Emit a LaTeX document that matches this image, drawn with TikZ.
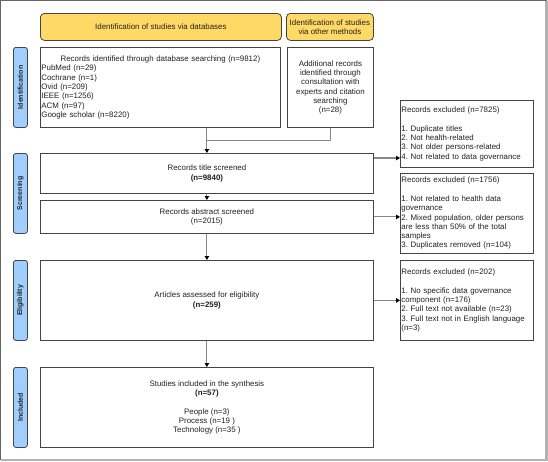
\documentclass[tikz,border=0pt]{standalone}
\usepackage{fontspec}
\setmainfont{Liberation Sans}
\usetikzlibrary{arrows.meta,calc}
\definecolor{hdryellow}{HTML}{FFD966}
\definecolor{sideblue}{HTML}{A0CFFF}
\definecolor{boxline}{HTML}{444444}
\definecolor{conline}{HTML}{888888}
\definecolor{txt}{HTML}{222222}
\frenchspacing
\tikzset{
  every node/.style={font=\fontsize{7.9}{9.3}\selectfont\frenchspacing, text=txt, inner sep=1.5pt},
  box/.style={draw=boxline, line width=0.8pt, fill=white, anchor=north west, align=center},
  hdr/.style={draw=boxline, line width=0.8pt, fill=hdryellow, rounded corners=4pt, anchor=north west, align=center},
  side/.style={draw=boxline, line width=0.8pt, fill=sideblue, rounded corners=2.5pt, anchor=north west,
    minimum width=14pt},
  sidetext/.style={rotate=90, font=\fontsize{7}{8}\selectfont\bfseries},
  excl/.style={draw=boxline, line width=0.8pt, fill=white, anchor=north west, align=left,
    inner xsep=0.8pt, text width=131pt, minimum width=133pt},
  conn/.style={draw=conline, line width=1.1pt},
  arr/.style={conn, -{Triangle[width=4.5pt,length=4pt,color=black]}},
}
\begin{document}
\begin{tikzpicture}[x=1pt,y=-1pt]
\useasboundingbox (0,0) rectangle (548,461);
% frame
\draw[draw=gray!80!black, line width=0.8pt] (0.6,0.6) rectangle (546,459);
\draw[draw=gray!60, line width=2.4pt] (546.6,0.6) -- (546.6,459.8) -- (0.6,459.8);

% headers
\node[hdr, minimum width=241pt, minimum height=27pt] (h1) at (40,13) {Identification of studies via databases};
\node[hdr, minimum width=87pt, minimum height=27pt] (h2) at (286,13) {Identification of studies\\via other methods};

% side labels
\node[side, minimum height=80pt] (s1) at (13,47) {};
\node[sidetext] at (s1.center) {Identification};
\node[side, minimum height=80pt] (s2) at (13,153) {};
\node[sidetext] at (s2.center) {Screening};
\node[side, minimum height=80pt] (s3) at (13,260) {};
\node[sidetext] at (s3.center) {Eligibility};
\node[side, minimum height=80pt] (s4) at (13,367) {};
\node[sidetext] at (s4.center) {Included};

% main boxes
\node[box, align=left, inner xsep=0.8pt, text width=238pt, minimum width=240pt, minimum height=80pt] (rec) at (40,47)
 {\makebox[\hsize]{Records identified through database searching (n=9812)}\\
  PubMed (n=29)\\Cochrane (n=1)\\Ovid (n=209)\\IEEE (n=1256)\\ACM (n=97)\\Google scholar (n=8220)};
\node[box, minimum width=86pt, minimum height=80pt] (add) at (287,47)
 {Additional records\\identified through\\consultation with\\experts and citation\\searching\\(n=28)};
\node[box, minimum width=333pt, minimum height=40pt] (title) at (40,153)
 {Records title screened\\\textbf{(n=9840)}};
\node[box, minimum width=333pt, minimum height=33pt] (abs) at (40,200)
 {Records abstract screened\\(n=2015)};
\node[box, minimum width=333pt, minimum height=80pt] (elig) at (40,260)
 {Articles assessed for eligibility\\\textbf{(n=259)}};
\node[box, minimum width=333pt, minimum height=80pt] (incl) at (40,367)
 {Studies included in the synthesis\\\textbf{(n=57)}\\[9.3pt]People (n=3)\\Process (n=19 )\\Technology (n=35 )};

% excluded boxes
\node[excl, minimum height=67pt] (ex1) at (400,100)
 {Records excluded (n=7825)\\[9.3pt]1. Duplicate titles\\2. Not health-related\\3. Not older persons-related\\4. Not related to data governance};
\node[excl, minimum height=80pt] (ex2) at (400,173)
 {Records excluded (n=1756)\\[9.3pt]1. Not related to health data\\governance\\2. Mixed population, older persons\\are less than 50\% of the total\\samples\\3. Duplicates removed (n=104)};
\node[excl, minimum height=80pt] (ex3) at (400,260)
 {Records excluded (n=202)\\[9.3pt]1. No specific data governance\\component (n=176)\\2. Full text not available (n=23)\\3. Full text not in English language\\(n=3)};

% connectors
\coordinate (top) at (title.north |- rec.south);
\coordinate (mid) at ($(top)!0.5!(title.north)$);
\draw[conn] (top) -- (mid);
\draw[conn] (add.south) |- (mid);
\draw[arr] (mid) -- (title.north);
\draw[arr] (title.south) -- (abs.north);
\draw[arr] (abs.south) -- (elig.north);
\draw[arr] (elig.south) -- (incl.north);
\coordinate (t1) at ($(title.north east)+(0,5)$);
\draw[arr] (t1) -- (t1 -| ex1.west);
\draw[arr] (abs.east) -- (abs.east -| ex2.west);
\draw[arr] (elig.east) -- (elig.east -| ex3.west);
\end{tikzpicture}
\end{document}
